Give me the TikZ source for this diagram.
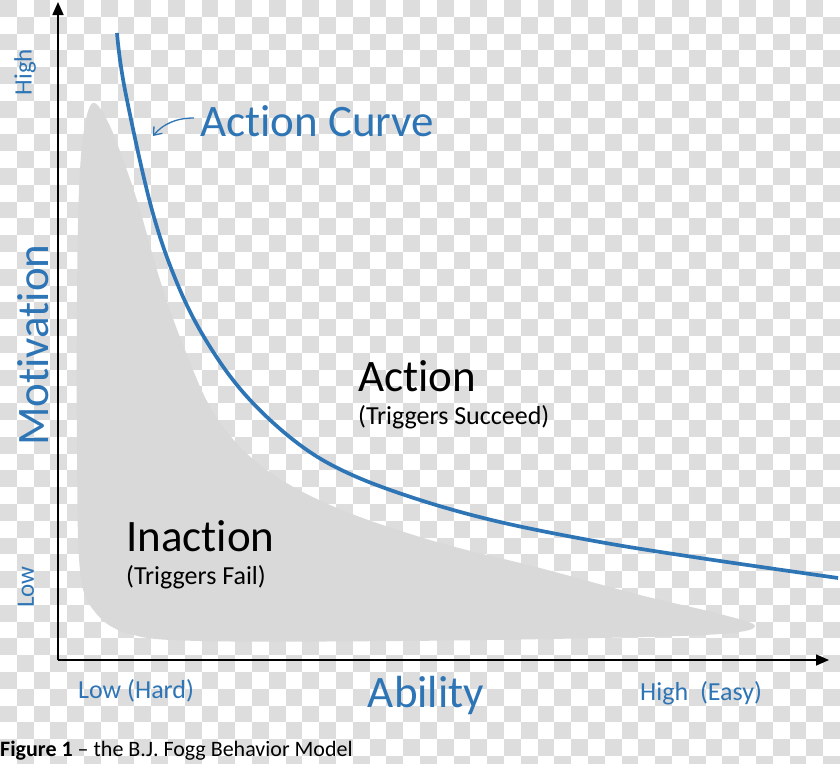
\documentclass[tikz,border=0pt]{standalone}
\usepackage{fontspec}
\setmainfont[RawFeature={-liga,-clig,-dlig,-calt}]{Carlito}
\usetikzlibrary{arrows.meta}
\definecolor{foggblue}{RGB}{46,117,182}
\definecolor{checkgrey}{RGB}{221,221,221}
\definecolor{inactgrey}{RGB}{217,217,217}
\newcommand{\fsz}[1]{\fontsize{#1}{#1}\selectfont}
\newcommand{\tinolig}{t\kern0pt i}
\begin{document}
\begin{tikzpicture}[x=1pt,y=-1pt]
        \useasboundingbox (0,0) rectangle (840,763);
        \fill[white] (0,0) rectangle (840,763);
        \foreach \i in {0,...,49}
            \foreach \j in {0,...,22}
                \fill[checkgrey] ({\i*16.8},{(2*\j+mod(\i,2))*16.8}) rectangle ++(16.8,16.8);

        \fill[inactgrey] plot[smooth cycle, tension=0.6] coordinates {
            (93,103) (108,122) (125,165) (140,210) (160,280) (185,350)
            (215,415) (260,465) (330,505) (430,540) (540,568) (640,595)
            (720,614) (755,626) (720,634) (600,638) (400,641) (200,641)
            (130,634) (95,612) (80,570) (77,450) (77,300) (79,190) (84,130)};

        \coordinate (origin) at (58,660);
        \coordinate (ytop) at (58,2);
        \coordinate (xend) at (829,660);
        \draw[line width=1.6pt, -{Triangle[length=13pt,width=11pt]}] (origin) -- (ytop);
        \draw[line width=1.6pt, -{Triangle[length=13pt,width=11pt]}] (origin) -- (xend);

        \draw[foggblue, line width=3.7pt] plot[smooth, tension=0.6] coordinates {
            (117,33) (125,90) (152,210) (180,290) (212,350) (250,400)
            (300,445) (350,474) (420,500) (500,522) (600,542) (700,558) (838,578)};

        \node[foggblue, anchor=base west, inner sep=0] (curvelbl) at (200,136) {\fsz{45}Ac\tinolig on Curve};
        \coordinate (curvetail) at (194,118);
        \coordinate (curvept) at (153,136);
        \draw[foggblue, line width=1.3pt, -{Straight Barb[length=7pt,width=11pt]}]
            (curvetail) .. controls (176,118) and (163,124) .. (curvept);

        \node[anchor=base west, inner sep=0] (act) at (358,391) {\fsz{45}Ac\tinolig on};
        \node[anchor=base west, inner sep=0] (actsub) at (358,424) {\fsz{26}(Triggers Succeed)};
        \node[anchor=base west, inner sep=0] (inact) at (126,551) {\fsz{45}Inac\tinolig on};
        \node[anchor=base west, inner sep=0] (inactsub) at (126,584) {\fsz{26}(Triggers Fail)};

        \node[foggblue, rotate=90] (motiv) at (33,345) {\fsz{45}Mo\tinolig vation};
        \node[foggblue, rotate=90] (mhigh) at (25,72) {\fsz{25}High};
        \node[foggblue, rotate=90] (mlow) at (26,587) {\fsz{25}Low};

        \node[foggblue, anchor=base] (abil) at (426,707) {\fsz{45}Ability};
        \node[foggblue, anchor=base west, inner sep=0] (alow) at (78,698) {\fsz{26}Low (Hard)};
        \node[foggblue, anchor=base west, inner sep=0] (ahigh) at (640,700) {\fsz{26}High\ \ (Easy)};

        \node[anchor=base west, inner sep=0] (caption) at (0,756) {\fsz{22}\textbf{Figure 1} -- the B.J. Fogg Behavior Model};
    \end{tikzpicture}
\end{document}
